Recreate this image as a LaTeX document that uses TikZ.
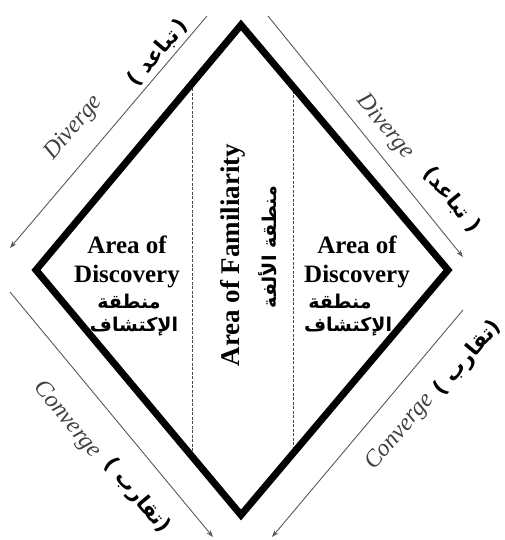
\documentclass[tikz,border=0pt]{standalone}
\usepackage{fontspec}
\setmainfont{Liberation Serif}
\newfontfamily\arabicfont[Script=Arabic]{DejaVu Sans}
\newfontfamily\parfont{DejaVu Sans}
\TeXXeTstate=1
\usetikzlibrary{arrows.meta,calc}
\newcommand{\lp}{{\parfont\bfseries(}}
\newcommand{\rp}{{\parfont\bfseries)}}
\begin{document}
\begin{tikzpicture}[x=1pt,y=-1pt,
  edge/.style={line width=7pt, line join=miter, draw=black},
  divider/.style={draw=gray!60!black, line width=0.7pt, dash pattern=on 3pt off 1.5pt},
  flow/.style={draw=gray!70!black, line width=0.9pt, -{Stealth[length=7pt,width=5pt]}},
  en/.style={font=\bfseries\fontsize{25}{29}\selectfont, inner sep=0pt, align=center},
  ar/.style={font=\arabicfont\bfseries\fontsize{19}{25}\selectfont, inner sep=0pt},
  lab/.style={font=\itshape\fontsize{24}{26}\selectfont, text=black!75, inner sep=0pt},
  arlab/.style={font=\arabicfont\bfseries\fontsize{21}{24}\selectfont, inner sep=0pt},
]
\useasboundingbox (0,0) rectangle (505,540);
% diamond vertices
\coordinate (T) at (241,25);
\coordinate (R) at (448,270);
\coordinate (B) at (241,515);
\coordinate (L) at (36,270);
% divider end points
\coordinate (d1t) at ($(T)!0.239!(L)$);
\coordinate (d1b) at ($(B)!0.239!(L)$);
\coordinate (d2t) at ($(T)!0.251!(R)$);
\coordinate (d2b) at ($(B)!0.251!(R)$);
\draw[divider] (d1t) -- (d1b);
\draw[divider] (d2t) -- (d2b);
\draw[edge] (T) -- (R) -- (B) -- (L) -- cycle;
% arrows
\coordinate (a1s) at (207,16);  \coordinate (a1e) at (10,248);
\coordinate (a2s) at (268,16);  \coordinate (a2e) at (463,257);
\coordinate (a3s) at (10,292);  \coordinate (a3e) at (213,537);
\coordinate (a4s) at (463,310); \coordinate (a4e) at (272,537);
\draw[flow] (a1s) -- (a1e);
\draw[flow] (a2s) -- (a2e);
\draw[flow] (a3s) -- (a3e);
\draw[flow] (a4s) -- (a4e);
% arrow labels
\node[lab, rotate=49.7] (dl) at (74,128) {Diverge};
\node[arlab, rotate=49.7] (dla) at (158,53) {\lp\ \beginR تباعد\endR\,\rp};
\node[lab, rotate=-51] (dr) at (385,127) {Diverge};
\node[arlab, rotate=-51] (dra) at (452,200) {\lp\beginR تباعد\endR\ \rp};
\node[lab, rotate=-50.4] (cl) at (67,420) {Converge};
\node[arlab, rotate=-50.4] (cla) at (137,496) {\lp\ \beginR تقارب\endR\rp};
\node[lab, rotate=49.9] (cr) at (400,432) {Converge};
\node[arlab, rotate=49.9] (cra) at (468,358) {\lp\ \beginR تقارب\endR\rp};
% area texts
\node[en] (ld) at (127,262) {Area of\\Discovery};
\node[ar] (ld1) at (129,302) {\beginR منطقة\endR};
\node[ar] (ld2) at (134,327) {\beginR الإكتشاف\endR};
\node[en] (rd) at (357,262) {Area of\\Discovery};
\node[ar] (rd1) at (340,302) {\beginR منطقة\endR};
\node[ar] (rd2) at (348,327) {\beginR الإكتشاف\endR};
\node[font=\bfseries\fontsize{27}{30}\selectfont, inner sep=0pt, rotate=90] (fam) at (233,255) {Area of Familiarity};
\node[ar, rotate=90] (fama) at (268,247) {\beginR منطقة الألفة\endR};
\end{tikzpicture}
\end{document}
